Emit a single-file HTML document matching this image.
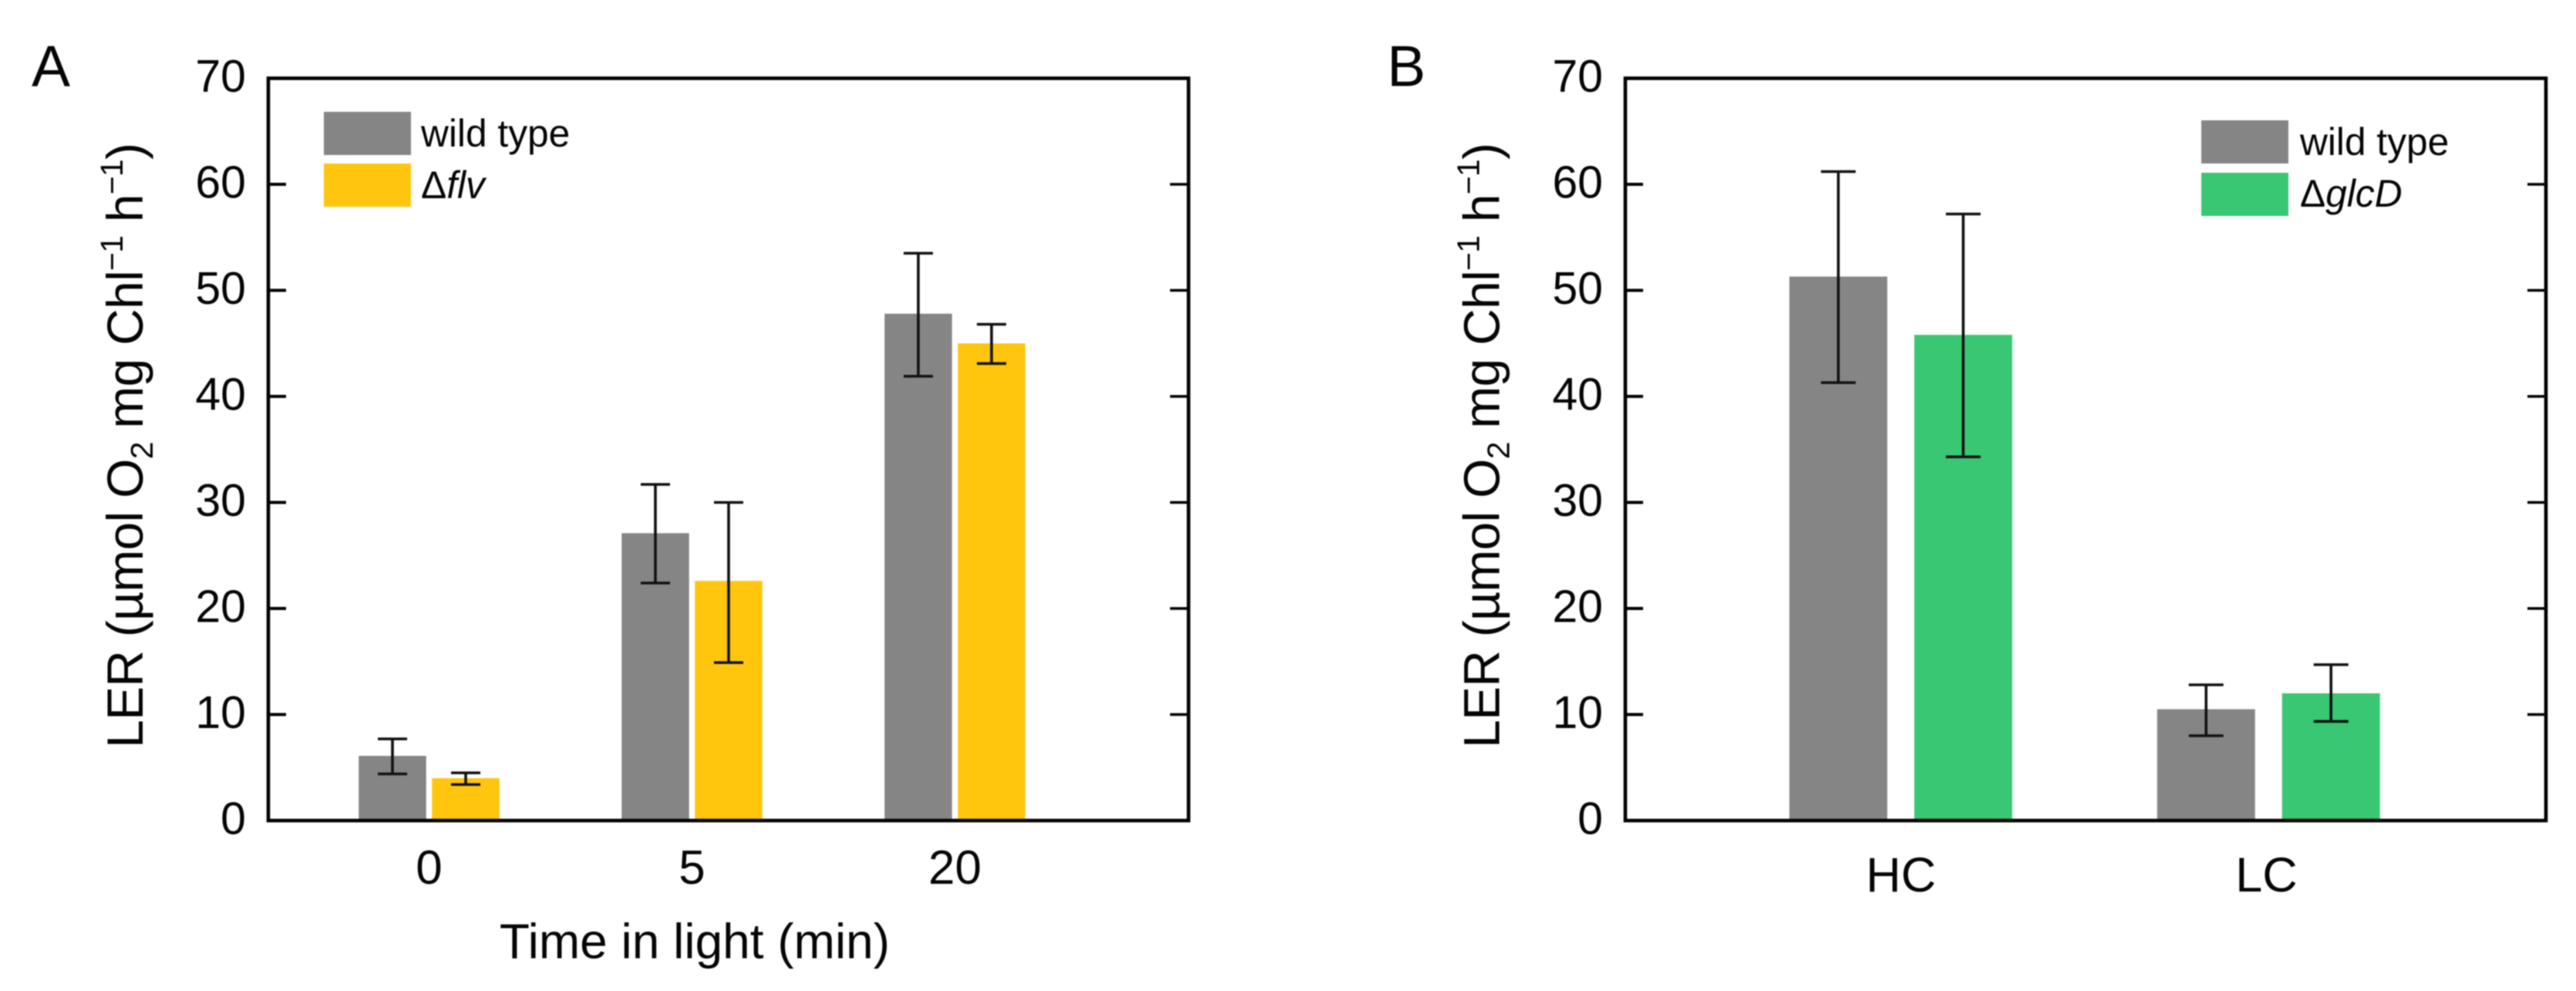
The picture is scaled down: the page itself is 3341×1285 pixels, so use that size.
<!DOCTYPE html>
<html>
<head>
<meta charset="utf-8">
<title>LER charts</title>
<style>
html,body{margin:0;padding:0;background:#fff;}
svg{display:block;filter:blur(0.7px);}
text{font-family:"Liberation Sans",sans-serif;fill:#050505;}
</style>
</head>
<body>
<svg id="figure" xmlns="http://www.w3.org/2000/svg" width="3341" height="1285" viewBox="0 0 3341 1285">
  <rect width="3341" height="1285" fill="#fff"/>
  <g id="marks"></g>

  <text x="41" y="111.5" font-size="75">A</text>
  <text x="1799" y="111.5" font-size="75">B</text>

  <text transform="translate(185,970) rotate(-90)" font-size="66" textLength="785">LER (µmol O<tspan font-size="41" dy="13">2</tspan><tspan dy="-13"> mg Chl</tspan><tspan font-size="41" dy="-26">−1</tspan><tspan dy="26"> h</tspan><tspan font-size="41" dy="-26">−1</tspan><tspan dy="26">)</tspan></text>
  <text transform="translate(1944.5,970) rotate(-90)" font-size="66" textLength="785">LER (µmol O<tspan font-size="41" dy="13">2</tspan><tspan dy="-13"> mg Chl</tspan><tspan font-size="41" dy="-26">−1</tspan><tspan dy="26"> h</tspan><tspan font-size="41" dy="-26">−1</tspan><tspan dy="26">)</tspan></text>

  <text x="901" y="1242.5" font-size="64" text-anchor="middle">Time in light (min)</text>
  <rect x="600" y="1259" width="600" height="26" fill="#fff"/>

  <g>
    <rect x="420" y="145" width="113" height="56" fill="#858585"/>
    <rect x="420" y="212" width="113" height="56" fill="#ffc60d"/>
    <text x="546" y="190" font-size="49.7">wild type</text>
    <text x="546" y="257" font-size="49.7">Δ<tspan font-style="italic">flv</tspan></text>
  </g>
  <g>
    <rect x="2855" y="156" width="113" height="56" fill="#858585"/>
    <rect x="2855" y="224" width="113" height="56" fill="#3ac774"/>
    <text x="2983" y="201" font-size="49.7">wild type</text>
    <text x="2983" y="268" font-size="49.7">Δ<tspan font-style="italic">glcD</tspan></text>
  </g>
</svg>
<script>
// Panel A data
const categoriesA = ['0', '5', '20'];
const wildTypeA = [6.1, 27.1, 47.8];
const wildTypeUpperA = [7.7, 31.7, 53.5];
const wildTypeLowerA = [4.4, 22.4, 41.9];
const flvA = [4.0, 22.6, 45.0];
const flvUpperA = [4.5, 30.0, 46.8];
const flvLowerA = [3.4, 14.9, 43.1];
// Panel B data
const categoriesB = ['HC', 'LC'];
const wildTypeB = [51.3, 10.5];
const wildTypeUpperB = [61.2, 12.8];
const wildTypeLowerB = [41.3, 8.0];
const glcDB = [45.8, 12.0];
const glcDUpperB = [57.2, 14.7];
const glcDLowerB = [34.3, 9.35];
// Shared y axis
const yTickValues = [0, 10, 20, 30, 40, 50, 60, 70];

const NS = 'http://www.w3.org/2000/svg';
const marks = document.getElementById('marks');
const Y0 = 1064, UNIT = 13.75;
function yScale(v) { return Y0 - v * UNIT; }
function make(tag, attrs, text) {
  const el = document.createElementNS(NS, tag);
  for (const k in attrs) el.setAttribute(k, attrs[k]);
  if (text !== undefined) el.textContent = text;
  marks.appendChild(el);
  return el;
}

function drawPanel(p) {
  p.series.forEach(function (s, si) {
    s.values.forEach(function (v, i) {
      const cx = p.xScale(i, si);
      const bar = make('rect', {x: cx - p.barW / 2, y: yScale(v), width: p.barW, height: Y0 - yScale(v), fill: s.color});
      
      
    });
  });
  const frame = make('rect', {x: p.left, y: yScale(70), width: p.right - p.left, height: Y0 - yScale(70), fill: 'none', stroke: '#000', 'stroke-width': 4.6});
  
  
  yTickValues.forEach(function (t) {
    const y = yScale(t);
    if (t !== 0 && t !== 70) {
      const tl = make('line', {x1: p.left, x2: p.left + 23, y1: y, y2: y, stroke: '#000', 'stroke-width': 4});
      
      
      const tr = make('line', {x1: p.right, x2: p.right - 24, y1: y, y2: y, stroke: '#000', 'stroke-width': 3.5});
      
      
    }
    const lab = make('text', {x: p.left - 29, y: y + 17.5, 'font-size': 59, 'text-anchor': 'end'}, String(t));
    
    
  });
  p.categories.forEach(function (c, i) {
    const lab = make('text', {x: p.labelX(i), y: p.labelY, 'font-size': p.labelSize, 'text-anchor': 'middle'}, c);
    
    
  });
  p.series.forEach(function (s, si) {
    s.values.forEach(function (v, i) {
      const cx = p.xScale(i, si);
      const yu = yScale(s.upper[i]), yl = yScale(s.lower[i]);
      const stem = make('line', {x1: cx, x2: cx, y1: yu, y2: yl, stroke: '#111', 'stroke-width': 3.6});
      
      
      const capU = make('line', {x1: cx - p.capW / 2, x2: cx + p.capW / 2, y1: yu, y2: yu, stroke: '#111', 'stroke-width': 3.6});
      
      
      const capL = make('line', {x1: cx - p.capW / 2, x2: cx + p.capW / 2, y1: yl, y2: yl, stroke: '#111', 'stroke-width': 3.6});
      
      
    });
  });
}

drawPanel({
  left: 348, right: 1541.5, barW: 87.5, capW: 38,
  categories: categoriesA,
  xScale: function (i, s) { return 556.5 + i * 341 + (s - 0.5) * 95; },
  labelX: function (i) { return 556.5 + i * 341; },
  labelY: 1146, labelSize: 62,
  series: [
    {values: wildTypeA, upper: wildTypeUpperA, lower: wildTypeLowerA, color: '#858585'},
    {values: flvA, upper: flvUpperA, lower: flvLowerA, color: '#ffc60d'}
  ]
});
drawPanel({
  left: 2108, right: 3302, barW: 127, capW: 45,
  categories: categoriesB,
  xScale: function (i, s) { return 2465.25 + i * 477 + (s - 0.5) * 162; },
  labelX: function (i) { return 2465.5 + i * 474; },
  labelY: 1156, labelSize: 63,
  series: [
    {values: wildTypeB, upper: wildTypeUpperB, lower: wildTypeLowerB, color: '#858585'},
    {values: glcDB, upper: glcDUpperB, lower: glcDLowerB, color: '#3ac774'}
  ]
});
</script>
</body>
</html>
